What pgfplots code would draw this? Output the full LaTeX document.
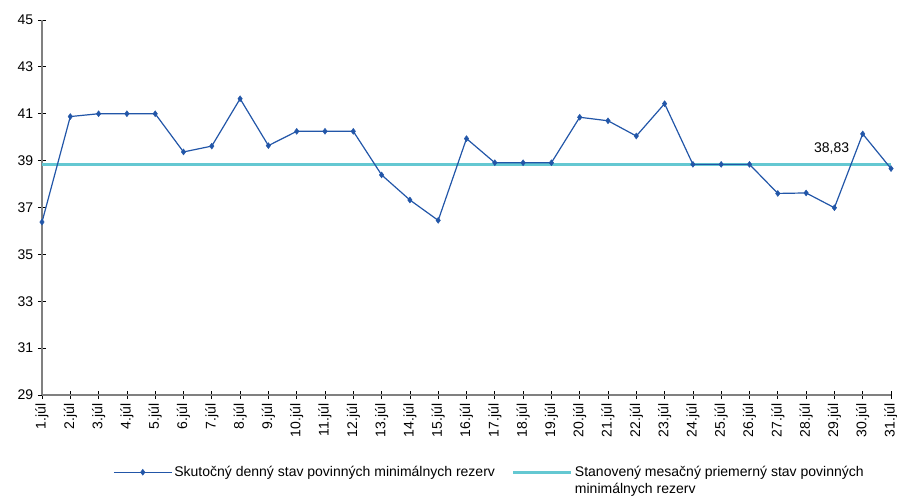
\documentclass[border=0pt]{standalone}
\usepackage{fontspec}
\setmainfont{Liberation Sans}
\usepackage{pgfplots}
\pgfplotsset{compat=1.18}
\definecolor{serblue}{HTML}{2256A8}
\definecolor{sercyan}{HTML}{64C8D2}
\begin{document}
\fontsize{14pt}{16pt}\selectfont
\begin{tikzpicture}
\begin{axis}[
  scale only axis,
  width=849pt, height=375pt,
  xmin=1, xmax=31, ymin=29, ymax=45,
  axis lines=left,
  axis line style={draw=gray, line width=1.2pt, -},
  xtick={1,...,31},
  xticklabels={1.júl,2.júl,3.júl,4.júl,5.júl,6.júl,7.júl,8.júl,9.júl,10.júl,11.júl,12.júl,13.júl,14.júl,15.júl,16.júl,17.júl,18.júl,19.júl,20.júl,21.júl,22.júl,23.júl,24.júl,25.júl,26.júl,27.júl,28.júl,29.júl,30.júl,31.júl},
  ytick={29,31,...,45},
  tick align=center,
  major tick length=8pt,
  tick style={black, line width=0.8pt},
  xticklabel style={rotate=90, anchor=east, font=\fontsize{14pt}{16pt}\selectfont},
  yticklabel style={font=\fontsize{14pt}{16pt}\selectfont},
  /pgf/number format/assume math mode=true,
  clip=false,
  reverse legend,
  legend columns=2,
  legend style={draw=none, fill=none, at={(rel axis cs:0.527,-0.177)}, anchor=north,
    font=\fontsize{14pt}{16pt}\selectfont,
    /tikz/every even column/.append style={column sep=15pt}},
  legend cell align=left,
  legend image code/.code={\draw[mark repeat=2,mark phase=2,#1] plot coordinates {(0pt,0pt) (29pt,0pt) (58pt,0pt)};},
]
\addplot[sercyan, line width=3pt, mark=none] coordinates {(1,38.83) (31,38.83)};
\addlegendentry{\begin{tabular}[t]{@{}l@{}}Stanovený mesačný priemerný stav povinných\\[1pt]minimálnych rezerv\end{tabular}}
\addplot[serblue, line width=1.2pt, mark=diamond*, mark size=3pt, mark options={fill=serblue, draw=serblue, line width=0.4pt}] coordinates {
(1,36.38) (2,40.88) (3,41.0) (4,41.0) (5,41.0) (6,39.37) (7,39.62) (8,41.64) (9,39.64) (10,40.25)
(11,40.25) (12,40.25) (13,38.39) (14,37.32) (15,36.45) (16,39.94) (17,38.91) (18,38.91) (19,38.91) (20,40.85)
(21,40.70) (22,40.05) (23,41.43) (24,38.84) (25,38.84) (26,38.84) (27,37.60) (28,37.62) (29,36.99) (30,40.14) (31,38.66)};
\addlegendentry{Skutočný denný stav povinných minimálnych rezerv}
\node[font=\fontsize{14pt}{16pt}\selectfont] at (axis cs:28.9,39.5) {38,83};
\end{axis}
\pgfresetboundingbox
\path[use as bounding box] (current axis.south west) ++(-42pt,-105pt) rectangle ++(897pt,500pt);
\end{tikzpicture}
\end{document}
